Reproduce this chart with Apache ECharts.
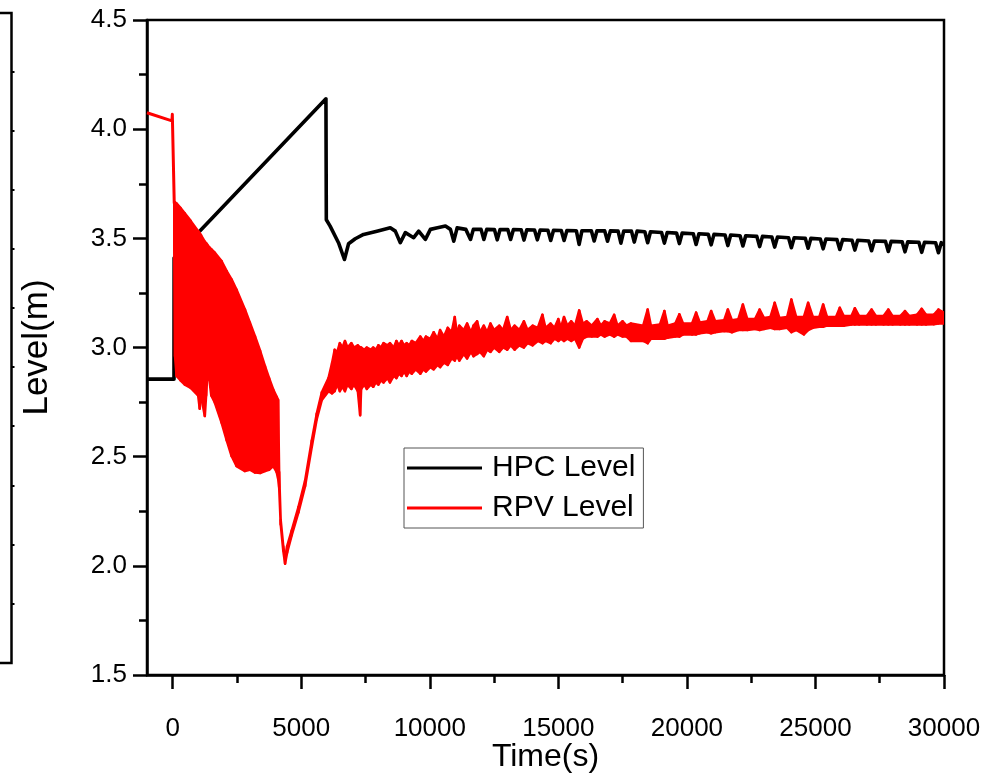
<!DOCTYPE html>
<html><head><meta charset="utf-8">
<script src="https://cdn.jsdelivr.net/npm/echarts@6/dist/echarts.min.js"></script>
<style>html,body{margin:0;padding:0;background:#fff}#c{width:984px;height:776px}</style>
</head><body><div id="c"></div><script>
// ---- Data ----
const xMajorTicks = [0, 5000, 10000, 15000, 20000, 25000, 30000];
const xMinorTicks = [2500, 7500, 12500, 17500, 22500, 27500];
const yTicks = [1.5, 2.0, 2.5, 3.0, 3.5, 4.0, 4.5];

const hpcTime = [-1000, 50, 55, 5960, 5975, 6123, 6448, 6680, 6840, 7100, 7423, 7943, 8463, 8658, 8853, 9048, 9200, 9373, 9568, 9828, 10023, 10300, 10608, 10803, 10933, 11063, 11400,
  11473, 11583, 11693, 11993, 12103, 12213, 12513, 12623, 12733, 13033, 13143, 13253, 13553, 13663, 13773,
  14073, 14183, 14293, 14593, 14703, 14813, 15113, 15223, 15333, 15698, 15808, 15918, 16283, 16393, 16503,
  16803, 16913, 17023, 17323, 17433, 17543, 17843, 17953, 18063, 18364, 18474, 18584, 19014, 19124, 19234,
  19597, 19707, 19817, 20248, 20358, 20468, 20833, 20943, 21053, 21483, 21593, 21703, 22068, 22178, 22288,
  22719, 22829, 22939, 23304, 23414, 23524, 23953, 24063, 24173, 24604, 24714, 24824, 25189, 25299, 25409,
  25837, 25947, 26057, 26422, 26532, 26642, 27073, 27183, 27293, 27724, 27834, 27944, 28372, 28482, 28592,
  29023, 29133, 29243, 29674, 29784, 29894, 30000];
const hpcLevel = [2.855, 2.855, 3.41, 4.139, 3.585, 3.556, 3.48, 3.403, 3.475, 3.498, 3.518, 3.533, 3.548, 3.533, 3.48, 3.526, 3.515, 3.503, 3.533, 3.495, 3.541, 3.548, 3.556, 3.541, 3.487, 3.548, 3.541,
  3.541, 3.495, 3.541, 3.541, 3.495, 3.541, 3.540, 3.493, 3.540, 3.540, 3.495, 3.540, 3.539, 3.492, 3.539,
  3.538, 3.493, 3.538, 3.537, 3.490, 3.537, 3.536, 3.490, 3.536, 3.535, 3.472, 3.535, 3.535, 3.488, 3.535,
  3.534, 3.487, 3.534, 3.533, 3.478, 3.533, 3.533, 3.483, 3.533, 3.530, 3.480, 3.530, 3.527, 3.478, 3.527,
  3.524, 3.476, 3.524, 3.521, 3.472, 3.521, 3.518, 3.470, 3.518, 3.515, 3.467, 3.515, 3.512, 3.465, 3.512,
  3.509, 3.462, 3.509, 3.506, 3.460, 3.506, 3.503, 3.457, 3.503, 3.500, 3.455, 3.500, 3.497, 3.452, 3.497,
  3.494, 3.449, 3.494, 3.491, 3.446, 3.491, 3.488, 3.443, 3.488, 3.486, 3.440, 3.486, 3.484, 3.438, 3.484,
  3.482, 3.436, 3.482, 3.480, 3.434, 3.480, 3.470];

// RPV level before the oscillation starts
const rpvLeadTime = [-1000, -30, -15, 60];
const rpvLeadLevel = [4.075, 4.038, 4.068, 3.66];

// RPV level afterwards: upper and lower envelope of the fast oscillation
const bandTime = [60, 90, 150, 300, 470, 700, 990, 1050, 1100, 1248, 1300, 1340, 1430, 1500, 1640, 1900, 2100, 2290, 2480, 2810, 3000, 3200, 3400, 3590, 3750, 3910, 4040, 4100,
  4140, 4200, 4300, 4370, 4450, 4630, 4890, 5150, 5410, 5600, 5800,
  6060, 6200, 6300, 6400, 6500, 6600, 6700, 6800, 6950, 7050, 7200, 7290, 7330, 7450, 7550, 7700, 7800, 7900, 8000, 8100, 8200, 8350, 8450, 8600, 8700, 8800, 8900, 9000, 9100, 9200, 9300, 9450, 9630, 9750, 9850,
  10020, 10150, 10300, 10400, 10550, 10700, 10850, 10970, 11050, 11150, 11320, 11450, 11600, 11700, 11840, 11950, 12100, 12230, 12360, 12500, 12700, 12850, 13010, 13150, 13300, 13480, 13660, 13800,
  14000, 14200, 14380, 14500, 14700, 14850, 15000, 15100, 15220, 15350, 15500, 15650, 15810, 15950, 16100, 16300, 16520, 16650, 16800, 17000, 17170, 17300, 17500, 17650, 17823,
  18300, 18474, 18600, 18950, 19124, 19250, 19550, 19707, 19850, 20200, 20358, 20500, 20800, 20943, 21100, 21450, 21593, 21750, 22000, 22178, 22350, 22650, 22829, 23000, 23250, 23414, 23600, 23900, 24063, 24250, 24550, 24714, 24900, 25150, 25299, 25450, 25800, 25947, 26100, 26400, 26532, 26700, 27000, 27183, 27350, 27650, 27834, 28000, 28300, 28482, 28650, 28950, 29133, 29300, 29600, 29784, 30000];
const bandUpper = [3.66, 3.665, 3.66, 3.64, 3.615, 3.58, 3.533, 3.525, 3.515, 3.485, 3.478, 3.472, 3.458, 3.45, 3.434, 3.396, 3.35, 3.312, 3.266, 3.174, 3.115, 3.052, 2.985, 2.915, 2.86, 2.808, 2.775, 2.76,
  2.43, 2.21, 2.09, 2.035, 2.09, 2.162, 2.269, 2.391, 2.574, 2.696, 2.795,
  2.86, 2.93, 2.99, 2.98, 3.02, 3.00, 3.03, 3.00, 3.02, 3.00, 3.01, 3.00, 3.00, 2.99, 3.00, 2.99, 3.00, 2.99, 3.01, 3.00, 3.02, 3.01, 3.02, 3.00, 3.03, 3.01, 3.03, 3.01, 3.02, 3.01, 3.03, 3.02, 3.05, 3.03, 3.05,
  3.04, 3.07, 3.04, 3.08, 3.05, 3.09, 3.07, 3.14, 3.07, 3.10, 3.08, 3.11, 3.07, 3.10, 3.12, 3.07, 3.10, 3.07, 3.11, 3.08, 3.10, 3.08, 3.14, 3.08, 3.10, 3.08, 3.12, 3.08,
  3.10, 3.09, 3.15, 3.09, 3.11, 3.09, 3.13, 3.09, 3.14, 3.10, 3.12, 3.10, 3.17, 3.11, 3.12, 3.10, 3.13, 3.10, 3.12, 3.11, 3.15, 3.10, 3.12, 3.10, 3.11,
  3.10, 3.174, 3.10, 3.105, 3.167, 3.10, 3.11, 3.152, 3.11, 3.11, 3.16, 3.115, 3.12, 3.167, 3.12, 3.125, 3.174, 3.125, 3.13, 3.197, 3.13, 3.13, 3.174, 3.135, 3.14, 3.205, 3.135, 3.14, 3.22, 3.14, 3.14, 3.205, 3.14, 3.14, 3.197, 3.14, 3.14, 3.182, 3.144, 3.144, 3.18, 3.144, 3.144, 3.174, 3.144, 3.144, 3.174, 3.144, 3.144, 3.167, 3.144, 3.15, 3.177, 3.15, 3.15, 3.174, 3.16];
const bandLower = [3.45, 2.96, 2.87, 2.85, 2.83, 2.815, 2.78, 2.72, 2.78, 2.686, 2.78, 2.86, 2.85, 2.78, 2.747, 2.656, 2.575, 2.503, 2.457, 2.434, 2.44, 2.427, 2.425, 2.434, 2.44, 2.457, 2.43, 2.40,
  2.36, 2.19, 2.07, 2.01, 2.06, 2.14, 2.245, 2.365, 2.545, 2.67, 2.76,
  2.80, 2.79, 2.80, 2.83, 2.80, 2.82, 2.80, 2.83, 2.81, 2.83, 2.80, 2.69, 2.81, 2.83, 2.81, 2.83, 2.82, 2.84, 2.83, 2.85, 2.84, 2.86, 2.84, 2.87, 2.86, 2.88, 2.87, 2.89, 2.87, 2.89, 2.88, 2.90, 2.88, 2.90, 2.89,
  2.91, 2.90, 2.92, 2.91, 2.93, 2.92, 2.95, 2.94, 2.96, 2.94, 2.97, 2.95, 2.98, 2.96, 2.97, 2.98, 2.96, 2.99, 2.98, 3.00, 2.98, 3.00, 2.99, 3.01, 2.99, 3.01, 3.00, 3.02,
  3.01, 3.03, 3.02, 3.03, 3.02, 3.04, 3.03, 3.04, 3.03, 3.04, 3.03, 3.04, 3.00, 3.04, 3.05, 3.05, 3.05, 3.06, 3.05, 3.06, 3.05, 3.06, 3.05, 3.05, 3.03,
  3.03, 3.02, 3.04, 3.04, 3.04, 3.045, 3.05, 3.05, 3.06, 3.06, 3.06, 3.065, 3.07, 3.065, 3.07, 3.075, 3.075, 3.07, 3.08, 3.08, 3.08, 3.085, 3.08, 3.085, 3.09, 3.085, 3.085, 3.09, 3.07, 3.08, 3.06, 3.08, 3.09, 3.095, 3.095, 3.10, 3.10, 3.10, 3.10, 3.105, 3.105, 3.105, 3.105, 3.105, 3.105, 3.105, 3.105, 3.105, 3.105, 3.105, 3.105, 3.105, 3.105, 3.105, 3.106, 3.11, 3.11];

// ---- Chart ----
const FONT = "'Liberation Sans', Arial, sans-serif";
const chart = echarts.init(document.getElementById('c'), null, {renderer: 'canvas'});
const legendIcon = 'path://M0 0H75V3H0Z';

const bracketTicks = [72, 131, 190, 249, 308, 367, 426, 486, 545, 604];
const graphics = [
  {type: 'polyline', shape: {points: [[0, 13], [11.5, 13], [11.5, 663], [0, 663]]}, style: {stroke: '#000', lineWidth: 2.5, fill: null}}
].concat(bracketTicks.map(y => ({type: 'line', shape: {x1: 11.5, y1: y, x2: 14.5, y2: y}, style: {stroke: '#000', lineWidth: 2}})));

chart.setOption({
  animation: false,
  backgroundColor: '#fff',
  textStyle: {fontFamily: FONT},
  grid: {left: 147, right: 40, top: 20, bottom: 101, outerBoundsMode: 'none', containLabel: false, show: true, borderColor: '#000', borderWidth: 2.5, backgroundColor: 'transparent'},
  graphic: graphics,
  legend: {
    orient: 'vertical', left: 404, top: 448,
    padding: [5, 8, 5, 3], itemGap: 10,
    itemWidth: 75, itemHeight: 3,
    borderColor: '#555', borderWidth: 1, backgroundColor: '#fff',
    selectedMode: false,
    textStyle: {fontFamily: FONT, fontSize: 30, color: '#000', lineHeight: 30, padding: [0, 0, 0, 5]},
    data: [{name: 'HPC Level', icon: legendIcon}, {name: 'RPV Level', icon: legendIcon}]
  },
  xAxis: [{
    type: 'value', min: -1000, max: 30000,
    name: 'Time(s)', nameLocation: 'middle', nameGap: 66, nameMoveOverlap: false,
    nameTextStyle: {fontFamily: FONT, fontSize: 32, color: '#000'},
    axisLine: {show: true, onZero: false, lineStyle: {color: '#000', width: 2.5}},
    axisTick: {show: true, inside: false, length: 14, lineStyle: {color: '#000', width: 2.5}, customValues: xMajorTicks},
    axisLabel: {show: true, margin: 41, fontFamily: FONT, fontSize: 26, color: '#000', customValues: xMajorTicks, formatter: v => String(v)},
    splitLine: {show: false}
  }, {
    type: 'value', min: -1000, max: 30000, position: 'bottom',
    axisLine: {show: false},
    axisTick: {show: true, inside: false, length: 8, lineStyle: {color: '#000', width: 2.5}, customValues: xMinorTicks},
    axisLabel: {show: false},
    splitLine: {show: false}
  }],
  yAxis: {
    type: 'value', min: 1.5, max: 4.5, interval: 0.5,
    name: 'Level(m)', nameLocation: 'middle', nameGap: 92, nameRotate: 90, nameMoveOverlap: false,
    nameTextStyle: {fontFamily: FONT, fontSize: 35, color: '#000'},
    axisLine: {show: true, onZero: false, lineStyle: {color: '#000', width: 2.5}},
    axisTick: {show: true, inside: false, length: 14, lineStyle: {color: '#000', width: 2.5}},
    minorTick: {show: true, splitNumber: 2, length: 8, lineStyle: {color: '#000', width: 2.5}},
    axisLabel: {margin: 20, fontFamily: FONT, fontSize: 26, color: '#000', formatter: v => yTicks.includes(+v.toFixed(1)) ? v.toFixed(1) : ''},
    splitLine: {show: false}
  },
  series: [{
    name: 'HPC Level', type: 'line', z: 2, symbol: 'none', clip: true,
    color: '#000',
    lineStyle: {color: '#000', width: 3.6, join: 'round'},
    data: hpcTime.map((t, i) => [t, hpcLevel[i]])
  }, {
    name: 'RPV Level', type: 'line', z: 3, symbol: 'none', clip: true,
    color: '#ff0000',
    lineStyle: {color: '#ff0000', width: 3, join: 'round'},
    data: rpvLeadTime.map((t, i) => [t, rpvLeadLevel[i]])
  }, {
    name: 'RPV band', type: 'custom', z: 3, clip: true,
    encode: {x: 0, y: [1, 2]},
    data: bandTime.map((t, i) => [t, bandUpper[i], bandLower[i]]),
    renderItem: function (params, api) {
      const i = params.dataIndex;
      if (i >= bandTime.length - 1) return null;
      const a = api.coord([bandTime[i], bandUpper[i]]);
      const b = api.coord([bandTime[i + 1], bandUpper[i + 1]]);
      const c = api.coord([bandTime[i + 1], bandLower[i + 1]]);
      const d = api.coord([bandTime[i], bandLower[i]]);
      return {type: 'polygon', shape: {points: [a, b, c, d]}, style: {fill: '#ff0000', stroke: '#ff0000', lineWidth: 2.5, lineJoin: 'round'}};
    }
  }]
});
</script></body></html>
